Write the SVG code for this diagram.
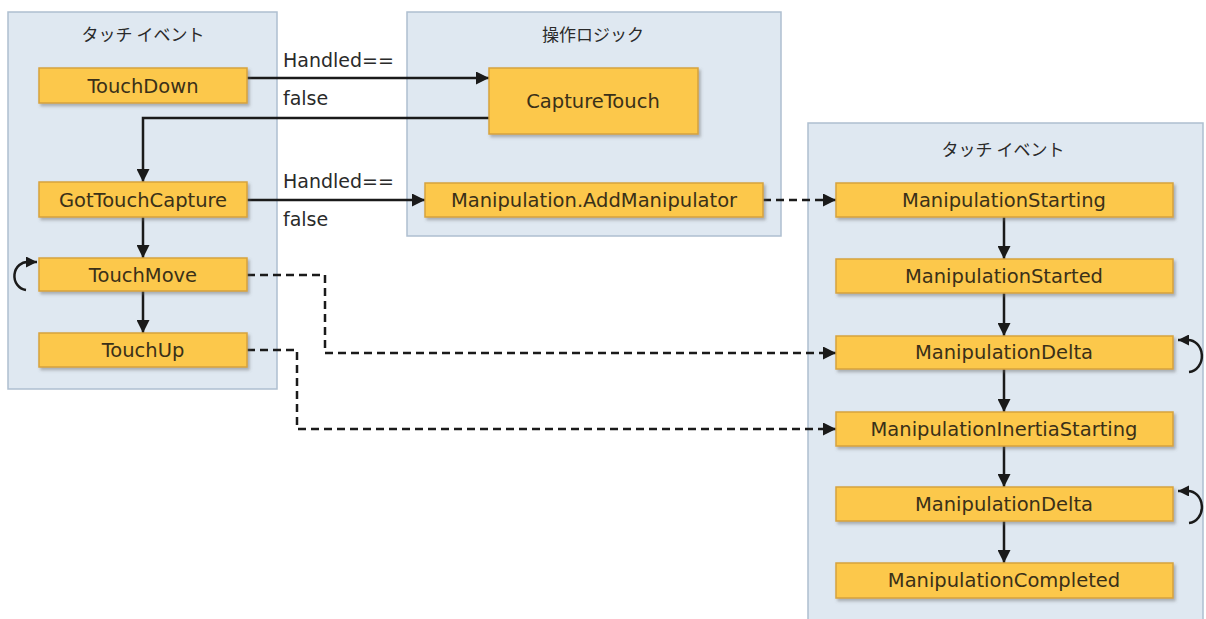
<svg xmlns="http://www.w3.org/2000/svg" width="1206" height="619" viewBox="0 0 1206 619">
<style>
.cont{fill:#dfe8f1;stroke:#aebfd0;stroke-width:1.5}
.node rect{fill:#fcc84c;stroke:#d6a23e;stroke-width:1.5;filter:url(#sh)}
.node text{font-family:"DejaVu Sans",Verdana,sans-serif;font-size:19.5px;fill:#3a3018;text-anchor:middle}
.title{font-family:"Noto Sans CJK JP","Noto Sans",sans-serif;font-size:17px;fill:#2a2a2a;text-anchor:middle}
.lbl{font-family:"DejaVu Sans",Verdana,sans-serif;font-size:19px;fill:#2a2a2a}
.e{fill:none;stroke:#1a1a1a;stroke-width:2.5}
.d{stroke-dasharray:8 5}
</style>
<defs>
<filter id="sh" x="-5%" y="-20%" width="115%" height="160%">
<feDropShadow dx="2" dy="2.5" stdDeviation="1.5" flood-color="#666" flood-opacity="0.45"/>
</filter>
<marker id="a" markerUnits="userSpaceOnUse" markerWidth="13" markerHeight="13" viewBox="0 0 10 10" refX="10" refY="5" orient="auto">
<path d="M0,0 L10,5 L0,10 z" fill="#1a1a1a"/>
</marker>
<marker id="s" markerUnits="userSpaceOnUse" markerWidth="11" markerHeight="11" viewBox="0 0 10 10" refX="10" refY="5" orient="auto">
<path d="M0,0 L10,5 L0,10 z" fill="#1a1a1a"/>
</marker>
</defs>
<rect width="1206" height="619" fill="#ffffff"/>
<g id="containers">
<rect class="cont" x="8" y="12" width="269" height="377"/>
<text class="title" x="143" y="41">タッチ イベント</text>
<rect class="cont" x="407" y="12" width="374" height="224"/>
<text class="title" x="593" y="41">操作ロジック</text>
<rect class="cont" x="808" y="123" width="395" height="500"/>
<text class="title" x="1003" y="156">タッチ イベント</text>
</g>
<g id="connectors">
<path class="e" d="M247,78 H489" marker-end="url(#a)"/>
<path class="e" d="M489,118 H143 V182" marker-end="url(#a)"/>
<path class="e" d="M247,200 H425" marker-end="url(#a)"/>
<path class="e" d="M143,217 V258" marker-end="url(#a)"/>
<path class="e" d="M143,291 V333" marker-end="url(#a)"/>
<path class="e" d="M1004,217 V259" marker-end="url(#a)"/>
<path class="e" d="M1004,293 V336" marker-end="url(#a)"/>
<path class="e" d="M1004,369 V412" marker-end="url(#a)"/>
<path class="e" d="M1004,446 V487" marker-end="url(#a)"/>
<path class="e" d="M1004,521 V563" marker-end="url(#a)"/>
<path class="e d" d="M763,200 H836" marker-end="url(#a)"/>
<path class="e d" d="M247,275 H325 V353 H836" marker-end="url(#a)"/>
<path class="e d" d="M247,350 H297 V429 H836" marker-end="url(#a)"/>
<path class="e" d="M26,290 A13,14 0 0 1 29,262 L37,262" marker-end="url(#s)"/>
<path class="e" d="M1189,372 A13,15 0 0 0 1187,340 L1178,340" marker-end="url(#s)"/>
<path class="e" d="M1189,523 A13,15 0 0 0 1187,491 L1178,491" marker-end="url(#s)"/>
<text class="lbl" x="283" y="67">Handled==</text>
<text class="lbl" x="283" y="105">false</text>
<text class="lbl" x="283" y="188">Handled==</text>
<text class="lbl" x="283" y="226">false</text>
</g>
<g id="n-touchdown" class="node"><rect x="39" y="68" width="208" height="35"/><text x="143" y="93">TouchDown</text></g>
<g id="n-gottouchcapture" class="node"><rect x="39" y="182" width="208" height="35"/><text x="143" y="207">GotTouchCapture</text></g>
<g id="n-touchmove" class="node"><rect x="39" y="258" width="208" height="33"/><text x="143" y="282">TouchMove</text></g>
<g id="n-touchup" class="node"><rect x="39" y="333" width="208" height="34"/><text x="143" y="357">TouchUp</text></g>
<g id="n-capturetouch" class="node"><rect x="489" y="68" width="209" height="66"/><text x="593" y="108">CaptureTouch</text></g>
<g id="n-addmanipulator" class="node"><rect x="425" y="183" width="338" height="34"/><text x="594" y="207">Manipulation.AddManipulator</text></g>
<g id="n-mstarting" class="node"><rect x="836" y="183" width="337" height="34"/><text x="1004" y="207">ManipulationStarting</text></g>
<g id="n-mstarted" class="node"><rect x="836" y="259" width="337" height="34"/><text x="1004" y="283">ManipulationStarted</text></g>
<g id="n-mdelta1" class="node"><rect x="836" y="336" width="337" height="33"/><text x="1004" y="359">ManipulationDelta</text></g>
<g id="n-minertia" class="node"><rect x="836" y="412" width="337" height="34"/><text x="1004" y="436">ManipulationInertiaStarting</text></g>
<g id="n-mdelta2" class="node"><rect x="836" y="487" width="337" height="34"/><text x="1004" y="511">ManipulationDelta</text></g>
<g id="n-mcompleted" class="node"><rect x="836" y="563" width="337" height="35"/><text x="1004" y="587">ManipulationCompleted</text></g>
</svg>
